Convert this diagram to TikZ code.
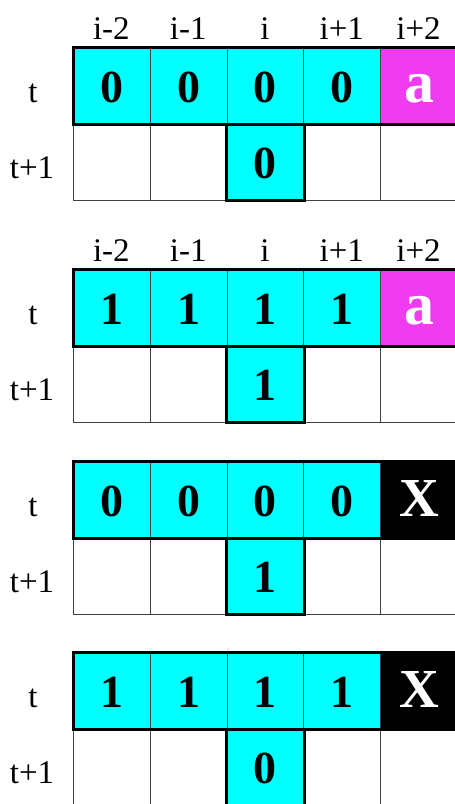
\documentclass[tikz,border=0pt]{standalone}
\usepackage{fontspec}
\setmainfont{Liberation Serif}
\definecolor{cellcyan}{RGB}{0,255,255}
\definecolor{cellmag}{RGB}{240,60,240}
\newcommand\digfont{\fontsize{46}{46}\selectfont\bfseries}
\newcommand\afont{\fontsize{60}{60}\selectfont\bfseries}
\newcommand\xfont{\fontsize{55}{55}\selectfont\bfseries}
\newcommand\labfont{\fontsize{33}{33}\selectfont}
\tikzset{
  cell/.style={draw=black!75, line width=0.8pt, minimum width=76.8pt, minimum height=76.5pt,
    inner sep=0pt, anchor=north west, text height=33pt, text depth=0pt},
  cyancell/.style={cell, fill=cellcyan, font=\digfont},
  whitecell/.style={cell, fill=white},
  magcell/.style={cell, fill=cellmag, text=white, font=\afont},
  blackcell/.style={cell, fill=black, text=white, font=\xfont},
  outline/.style={draw=black, line width=3pt, line join=miter},
  lab/.style={anchor=base, inner sep=0pt, font=\labfont},
}
\newcommand\drawpanel[6]{%
  % #1 name, #2 top y, #3 top digit, #4 bottom digit, #5 last cell style, #6 last text
  \foreach \k in {1,...,4} {
    \node[cyancell] (#1t\k) at ({73+76.8*(\k-1)}, #2) {#3};
  }
  \node[#5] (#1t5) at ({73+76.8*4}, #2) {#6};
  \foreach \k in {1,2,4,5} {
    \node[whitecell] (#1b\k) at ({73+76.8*(\k-1)}, #2+76.5) {};
  }
  \node[cyancell] (#1b3) at ({73+76.8*2}, #2+76.5) {#4};
  \draw[outline] (#1t1.north west) rectangle (#1t5.south east);
  \draw[outline] (#1b3.north west) -- (#1b3.south west) -- (#1b3.south east) -- (#1b3.north east);
  \node[lab] (#1rt) at (33, #2+55) {t};
  \node[lab] (#1rb) at (32, #2+131) {t+1};
}
\newcommand\collabels[2]{%
  \node[lab] (#1c1) at ({73+76.8*0.5}, #2-8) {i-2};
  \node[lab] (#1c2) at ({73+76.8*1.5}, #2-8) {i-1};
  \node[lab] (#1c3) at ({73+76.8*2.5}, #2-8) {i};
  \node[lab] (#1c4) at ({73+76.8*3.5}, #2-8) {i+1};
  \node[lab] (#1c5) at ({73+76.8*4.5}, #2-8) {i+2};
}
\begin{document}
\begin{tikzpicture}[x=1pt,y=-1pt]
  \useasboundingbox (0,0) rectangle (455,804);
  \clip (0,0) rectangle (455,804);
  \fill[white] (0,0) rectangle (455,804);
  \drawpanel{pa}{47}{0}{0}{magcell}{a}
  \collabels{pa}{47}
  \drawpanel{pb}{269}{1}{1}{magcell}{a}
  \collabels{pb}{269}
  \drawpanel{pc}{461}{0}{1}{blackcell}{X}
  \drawpanel{pd}{652}{1}{0}{blackcell}{X}
\end{tikzpicture}
\end{document}
